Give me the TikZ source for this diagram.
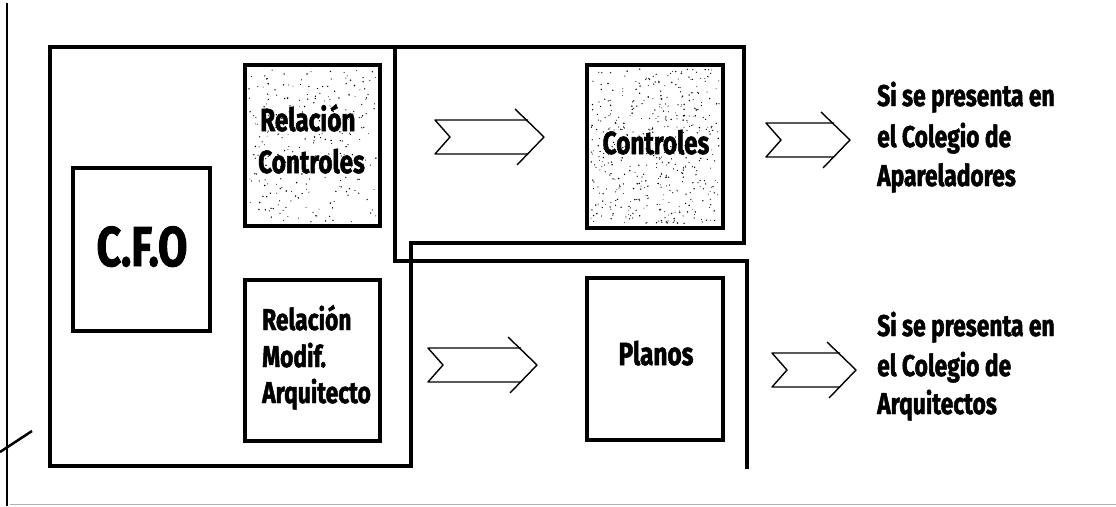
\documentclass[tikz,border=0pt]{standalone}
\usepackage{fontspec}
\newfontfamily\dispfont{Fira Sans}[FakeStretch=0.76, BoldFeatures={FakeBold=1.6}]
\usetikzlibrary{calc}
\pgfdeclarelayer{bg}
\pgfsetlayers{bg,main}
\tikzset{
  frame/.style={line width=3.2pt, line join=miter},
  box/.style={draw, line width=4pt, inner sep=0pt, outer sep=0pt, minimum width=136pt, minimum height=162pt},
  boxtxt/.style={font=\dispfont\bfseries\fontsize{32}{38}\selectfont, inner sep=0pt, anchor=base west},
  boxtxtc/.style={font=\dispfont\bfseries\fontsize{32}{38}\selectfont, inner sep=0pt, anchor=base},
  sidetxt/.style={font=\dispfont\bfseries\fontsize{30}{36}\selectfont, inner sep=0pt, anchor=base west},
  chevron/.pic={
    \draw[line width=1.4pt, line join=round] (#1-16,-17) -- (0,-17) -- (15,0) -- (0,17) -- (#1-16,17);
    \draw[line width=1.4pt, line join=round] (#1-29,-28) -- (#1,0) -- (#1-27,28);
  }
}
\begin{document}
\begin{tikzpicture}[x=1pt,y=-1pt]
\useasboundingbox (0,0) rectangle (1116,506);
% margin marks
\draw[line width=1.5pt] (7,3) -- (7,506);
\draw[line width=2.5pt] (0,452) -- (32,431);
\draw[gray!60, line width=1pt] (10,504) -- (1116,504);
% frames
\draw[frame] (50,47) -- (744,47) -- (744,243) -- (411,243) -- (411,466) -- (50,466) -- cycle;
\draw[frame] (395,47) -- (395,261) -- (747,261) -- (747,469);
% boxes
\node[box, minimum width=137pt, minimum height=163pt] (cfo) at (141.5,249.5) {};
\node[box, minimum width=135pt, minimum height=161pt] (relc) at (312.5,145.5) {};
\node[box, minimum width=135pt, minimum height=161pt] (relm) at (312.5,360.5) {};
\node[box, minimum width=136pt, minimum height=163pt] (ctrl) at (655,146.5) {};
\node[box, minimum width=136pt, minimum height=162pt] (plan) at (655,359) {};
% stipple
\begin{pgfonlayer}{bg}
\pgfmathsetseed{7}
\foreach \i in {1,...,260} {
  \pgfmathsetmacro\rx{4+rnd*127}
  \pgfmathsetmacro\ry{4+rnd*153}
  \pgfmathsetmacro\rr{0.45+rnd*0.4}
  \fill ($(relc.north west)+(\rx,\ry)$) circle (\rr pt);
}
\foreach \i in {1,...,480} {
  \pgfmathsetmacro\rx{4+rnd*128}
  \pgfmathsetmacro\ry{4+rnd*155}
  \pgfmathsetmacro\rr{0.45+rnd*0.4}
  \fill ($(ctrl.north west)+(\rx,\ry)$) circle (\rr pt);
}
\end{pgfonlayer}
% texts
\node[font=\dispfont\bfseries\fontsize{56}{60}\selectfont, inner sep=0pt, anchor=base] (cfot) at (142,266) {C.F.O};
\node[boxtxt] (relc1) at (260,131) {Relación};
\node[boxtxt] (relc2) at (258,173) {Controles};
\node[boxtxt, font=\dispfont\bfseries\fontsize{30}{36}\selectfont] (relm1) at (262,330) {Relación};
\node[boxtxt, font=\dispfont\bfseries\fontsize{30}{36}\selectfont] (relm2) at (262,367) {Modif.};
\node[boxtxt, font=\dispfont\bfseries\fontsize{30}{36}\selectfont] (relm3) at (262,403) {Arquitecto};
\node[boxtxtc] (ctrlt) at (656,154) {Controles};
\node[boxtxtc] (plant) at (656,365) {Planos};
\node[sidetxt] (s1) at (877,106) {Si se presenta en};
\node[sidetxt] (s2) at (877,147) {el Colegio de};
\node[sidetxt] (s3) at (877,186) {Apareladores};
\node[sidetxt] (t1) at (877,336) {Si se presenta en};
\node[sidetxt] (t2) at (877,376) {el Colegio de};
\node[sidetxt] (t3) at (877,414) {Arquitectos};
% chevron arrows
\pic (a1) at (435,137) {chevron=109};
\pic (a2) at (766,140) {chevron=84};
\pic (a3) at (428,365) {chevron=109};
\pic (a4) at (772,370) {chevron=84};
\end{tikzpicture}
\end{document}
